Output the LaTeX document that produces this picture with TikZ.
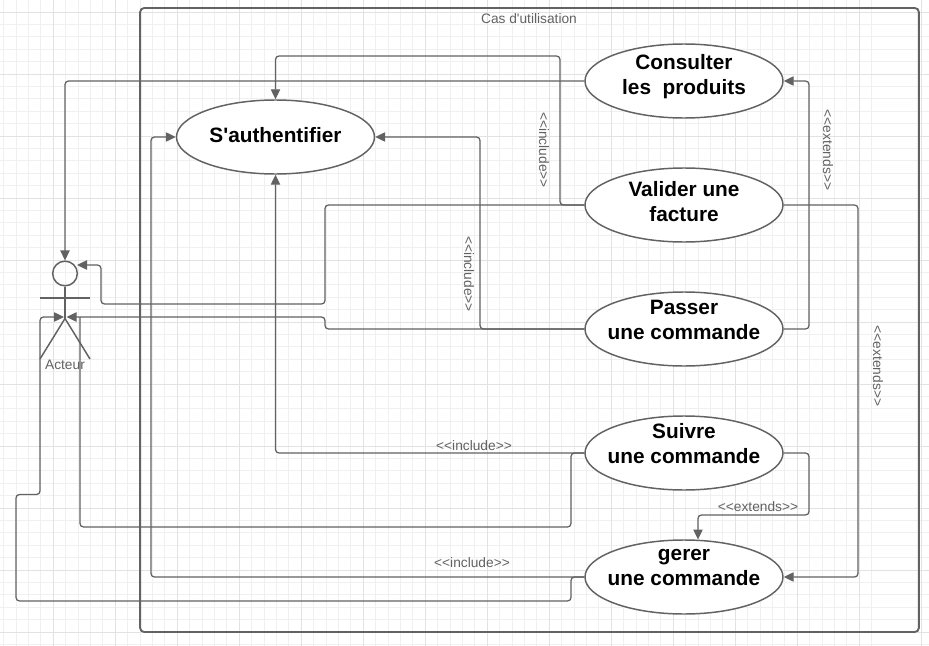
\documentclass[tikz,border=0pt]{standalone}
\usepackage{fontspec}
\setmainfont{Liberation Sans}
\newfontfamily\plainfont{Liberation Sans}
\usetikzlibrary{shapes.geometric,arrows.meta}
\definecolor{ink}{HTML}{626262}
\definecolor{gridminor}{HTML}{F0F0F0}
\definecolor{gridmajor}{HTML}{E2E2E2}
\tikzset{
  x=0.75pt,y=-0.75pt,
  usecase/.style={ellipse,draw=ink,line width=1.1pt,fill=white,minimum width=148.5pt,minimum height=55.5pt,inner sep=0pt},
  casetext/.style={font=\plainfont\bfseries\fontsize{15.6}{18.75}\selectfont,align=center,text=black,inner sep=0pt},
  conn/.style={draw=ink,line width=0.95pt,rounded corners=2.6pt},
  arr/.style={conn,-{Triangle[length=7.5pt,width=7pt]}},
  lbl/.style={font=\plainfont\fontsize{10.3}{12}\selectfont,text=ink,inner sep=0pt},
  limb/.style={draw=ink,line width=1.1pt},
}
\begin{document}
\begin{tikzpicture}
\useasboundingbox (0,0) rectangle (929,646);
\fill[white] (0,0) rectangle (929,646);
% grid
\foreach \k in {-4,...,70}{
  \draw[gridminor,line width=0.75pt] ({3.7+12.4*\k},0) -- ({3.7+12.4*\k},646);
  \draw[gridminor,line width=0.75pt] (0,{12+12.4*\k}) -- (929,{12+12.4*\k});
}
\foreach \k in {0,...,14}{
  \draw[gridmajor,line width=0.75pt] ({53.3+62*\k},0) -- ({53.3+62*\k},646);
  \draw[gridmajor,line width=0.75pt] (0,{12+62*\k}) -- (929,{12+62*\k});
}
% system boundary
\node[draw=ink,line width=1.4pt,rounded corners=3pt,minimum width=584pt,minimum height=468pt,inner sep=0pt] (system) at (529.5,320) {};
\node[lbl] (systitle) at (529,18.5) {Cas d'utilisation};
% use cases
\node[usecase] (auth) at (275.5,137) {};
\node[usecase] (consulter) at (684,81) {};
\node[usecase] (valider) at (684,205) {};
\node[usecase] (passer) at (684,329) {};
\node[usecase] (suivre) at (684,453) {};
\node[usecase] (gerer) at (684,577) {};
% actor
\node[circle,draw=ink,line width=1.1pt,minimum size=18.5pt,inner sep=0pt] (head) at (65,273.5) {};
\coordinate (hip) at (65,318.5);
\coordinate (armL) at (40,298);
\coordinate (armR) at (90,298);
\coordinate (legL) at (40,359);
\coordinate (legR) at (90,359);
\draw[limb] (head.south) -- (hip);
\draw[limb] (armL) -- (armR);
\draw[limb] (legL) -- (hip) -- (legR);
\node[lbl] (acteur) at (65,365) {Acteur};
% connectors
\draw[arr] (consulter.west) -- (head.north |- consulter.west) -- (head.north);
\draw[arr] (valider.west) -- (560,205) -- (560,56) -- (275.5,56) -- (auth.north);
\draw[arr] (valider.west) -- (325,205) -- (325,304) -- (101,304) -- (101,265) -- (77,265);
\draw[arr] (passer.east) -- (809,329) -- (809,81) -- (consulter.east);
\draw[arr] (passer.west) -- (480,329) -- (480,137) -- (auth.east);
\draw[arr] (passer.west) -- (325,329) -- (325,317) -- (66.5,317);
\draw[arr] (valider.east) -- (858,205) -- (858,577) -- (gerer.east);
\draw[arr] (suivre.west) -- (275.5,453) -- (auth.south);
\draw[conn] (suivre.west) -- (571,453) -- (571,527) -- (80,527) -- (80,317);
\draw[arr] (suivre.east) -- (809,453) -- (809,515) -- (698,515) -- (698,539.5);
\draw[arr] (gerer.west) -- (151,577) -- (151,137) -- (auth.west);
\draw[arr] (gerer.west) -- (571,577) -- (571,601) -- (16,601) -- (16,494.5) -- (40,494.5) -- (40,317) -- (64,317);
% use case texts
\node[casetext] (tauth) at (275.5,135) {S'authentifier};
\node[casetext] (tconsulter) at (684,76.8) {Consulter\\les\ \ produits};
\node[casetext] (tvalider) at (684,201.5) {Valider une\\facture};
\node[casetext] (tpasser) at (684,320) {Passer\\une commande};
\node[casetext] (tsuivre) at (684,443.5) {Suivre\\une commande};
\node[casetext] (tgerer) at (684,567.5) {gerer\\une commande};
% labels
\node[lbl,rotate=-90] (l1) at (544,150) {<<include>>};
\node[lbl,rotate=-90] (l2) at (469,274) {<<include>>};
\node[lbl,rotate=-90] (l3) at (828,150) {<<extends>>};
\node[lbl,rotate=-90] (l4) at (878,366) {<<extends>>};
\node[lbl] (l5) at (474,446) {<<include>>};
\node[lbl] (l6) at (472,563) {<<include>>};
\node[lbl] (l7) at (758,507) {<<extends>>};
\end{tikzpicture}
\end{document}
